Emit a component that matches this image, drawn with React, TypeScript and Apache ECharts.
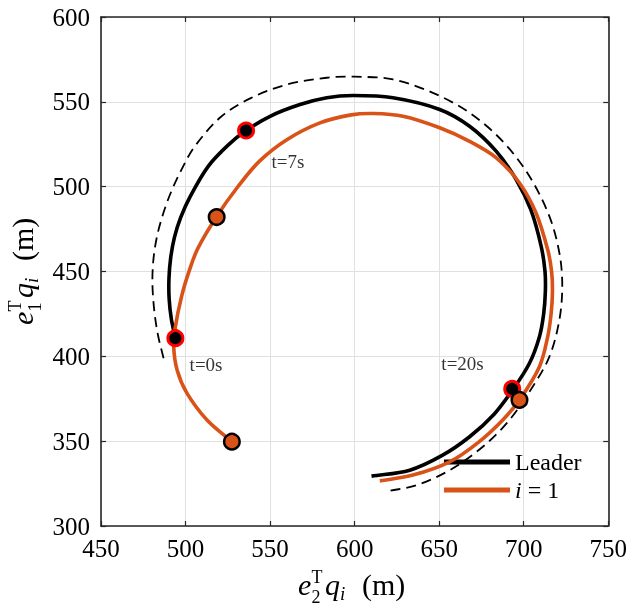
import React, { useEffect, useRef } from "react";
import * as echarts from "echarts";

const FONT = '"Liberation Serif", "Times New Roman", serif';

// Axis ticks
const xTicks = { min: 450, max: 750, interval: 50 };
const yTicks = { min: 300, max: 600, interval: 50 };

// Leader trajectory (e2 q, e1 q), from t=0 onwards
const leaderPath: number[][] = [
  [494.0, 410.7], [491.6, 422.0], [490.3, 434.0], [490.2, 446.0], [491.2, 458.0],
  [493.4, 470.0], [497.2, 482.0], [502.8, 494.3], [513.4, 512.0], [525.5, 524.8],
  [535.8, 533.1], [550.0, 541.5], [567.7, 548.4], [583.5, 552.4], [599.1, 553.7],
  [622.7, 552.4], [650.3, 545.5], [668.0, 535.6], [683.8, 520.8], [695.6, 504.1],
  [704.2, 486.4], [710.3, 465.0], [712.6, 450.0], [712.8, 438.0], [711.8, 425.0],
  [709.3, 411.6], [703.4, 395.9], [693.6, 380.4], [682.5, 365.9], [668.0, 352.6],
  [651.8, 341.6], [632.6, 332.9], [610.0, 329.4],
];

// Follower i = 1 trajectory
const followerPath: number[][] = [
  [527.4, 349.7], [512.7, 362.5], [500.9, 378.2], [495.0, 392.0], [493.0, 405.7],
  [494.0, 417.5], [497.7, 435.5], [502.2, 450.5], [507.2, 463.5], [518.3, 482.3],
  [530.8, 499.8], [543.9, 515.2], [559.9, 527.7], [579.5, 537.6], [598.0, 542.3],
  [611.0, 543.1], [628.6, 541.5], [650.3, 534.7], [668.0, 526.7], [683.8, 517.0],
  [697.5, 502.2], [707.3, 484.5], [714.2, 462.8], [716.5, 450.0], [717.0, 438.0],
  [716.2, 425.0], [714.2, 411.6], [709.3, 393.9], [697.5, 374.3], [687.6, 362.5],
  [673.2, 349.3], [656.2, 337.8], [634.5, 330.0], [614.9, 326.6],
];

// Dashed outer reference curve
const dashedPath: number[][] = [
  [487.0, 398.9], [483.6, 413.0], [481.4, 428.0], [480.4, 444.0], [481.1, 458.0],
  [483.3, 471.5], [486.9, 484.5], [491.5, 497.0], [497.6, 510.0], [505.2, 523.4],
  [521.0, 541.2], [538.6, 552.2], [559.9, 560.2], [583.5, 564.2], [600.0, 564.8],
  [622.7, 563.2], [646.3, 555.3], [668.0, 543.5], [687.6, 526.7], [703.4, 506.1],
  [715.2, 482.5], [721.1, 460.9], [722.8, 442.0], [721.1, 421.5], [715.2, 399.8],
  [705.3, 382.1], [691.6, 362.5], [675.8, 346.7], [656.2, 332.9], [636.5, 324.0],
  [620.8, 320.7],
];

// Snapshots at t = 0, 7, 20 s
const leaderMarks: number[][] = [[494.0, 410.7], [535.8, 533.1], [693.2, 380.8]];
const followerMarks: number[][] = [[527.4, 349.7], [518.4, 482.1], [697.5, 374.3]];

const annTexts = ["t=0s", "t=7s", "t=20s"];
const annPos: number[][] = [[502.4, 395.2], [550.8, 515.0], [651.3, 395.6]];

const seriesNames = ["Leader", "i = 1"];
const ORANGE = "#D95319";

// Smooth path through pixel points (chord-length scaled Hermite -> cubic Bezier)
function smoothPathData(px: number[][]): string {
  const n = px.length;
  const tan: number[][] = px.map((p, i) => {
    const a = px[Math.max(0, i - 1)];
    const b = px[Math.min(n - 1, i + 1)];
    const dx = b[0] - a[0];
    const dy = b[1] - a[1];
    const l = Math.hypot(dx, dy) || 1;
    return [dx / l, dy / l];
  });
  let d = `M${px[0][0]},${px[0][1]}`;
  for (let i = 0; i < n - 1; i++) {
    const p = px[i];
    const q = px[i + 1];
    const len = Math.hypot(q[0] - p[0], q[1] - p[1]) / 3;
    const c1 = [p[0] + tan[i][0] * len, p[1] + tan[i][1] * len];
    const c2 = [q[0] - tan[i + 1][0] * len, q[1] - tan[i + 1][1] * len];
    d += ` C${c1[0]},${c1[1]} ${c2[0]},${c2[1]} ${q[0]},${q[1]}`;
  }
  return d;
}

function curveSeries(name: string, pts: number[][], color: string, width: number, dash: number[] | null, z: number) {
  return {
    type: "custom",
    name,
    data: pts,
    z,
    itemStyle: { color },
    encode: { x: 0, y: 1 },
    renderItem: (params: any, api: any) => {
      if (params.dataIndex !== 0) return null;
      const px = pts.map((p) => api.coord(p));
      return {
        type: "path",
        shape: { pathData: smoothPathData(px) },
        style: {
          fill: "none",
          stroke: color,
          lineWidth: width,
          lineDash: dash || undefined,
        },
      };
    },
  };
}

function labelChildren(sub: string) {
  const pieces = [
    { t: "e", x: 0, by: 0, s: 30, it: true },
    { t: "T", x: 13.5, by: -12, s: 18, it: false },
    { t: sub, x: 13.5, by: 8, s: 18, it: false },
    { t: "q", x: 27, by: 0, s: 30, it: true },
    { t: "i", x: 42, by: 5, s: 19, it: true },
    { t: "(m)", x: 64, by: 0, s: 30, it: false },
  ];
  return pieces.map((p) => ({
    type: "text",
    x: p.x,
    y: p.by - 0.34 * p.s,
    style: {
      text: p.t,
      font: `${p.it ? "italic " : ""}${p.s}px ${FONT}`,
      fill: "#000",
      align: "left",
      verticalAlign: "middle",
      textAlign: "left",
      textVerticalAlign: "middle",
    },
  }));
}

export default function App() {
  const ref = useRef<HTMLDivElement>(null);
  useEffect(() => {
    if (!ref.current) return;
    const chart = echarts.init(ref.current, undefined, { renderer: "svg" });
    const axisLine = { show: true, onZero: false, lineStyle: { color: "#262626", width: 1.6 } };
    const tick = { show: true, inside: true, length: 5, lineStyle: { color: "#262626", width: 1.2 } };
    const split = { show: true, lineStyle: { color: "#e0e0e0", width: 1 } };
    const tickLabel = { fontFamily: FONT, fontSize: 25, color: "#000" };

    chart.setOption({
      animation: false,
      grid: { left: 101, top: 17, width: 509, height: 509, containLabel: false },
      xAxis: [
        {
          type: "value", ...xTicks, position: "bottom",
          axisLine, axisTick: tick, splitLine: split,
          axisLabel: { ...tickLabel, margin: 10 },
        },
        {
          type: "value", ...xTicks, position: "top",
          axisLine, axisTick: tick, splitLine: { show: false }, axisLabel: { show: false },
        },
      ],
      yAxis: [
        {
          type: "value", ...yTicks, position: "left",
          axisLine, axisTick: tick, splitLine: split,
          axisLabel: { ...tickLabel, margin: 11 },
        },
        {
          type: "value", ...yTicks, position: "right",
          axisLine, axisTick: tick, splitLine: { show: false }, axisLabel: { show: false },
        },
      ],
      legend: {
        data: seriesNames,
        orient: "vertical",
        left: 444,
        top: 450,
        padding: 0,
        itemWidth: 66,
        itemHeight: 5,
        itemGap: 4,
        icon: "rect",
        itemStyle: { borderWidth: 0 },
        formatter: (n: string) => (n === "i = 1" ? "{it|i} = 1" : n),
        textStyle: {
          fontFamily: FONT, fontSize: 24, color: "#000", lineHeight: 24,
          rich: { it: { fontFamily: FONT, fontSize: 24, fontStyle: "italic", color: "#000", lineHeight: 24 } },
        },
      },
      series: [
        curveSeries("dashed", dashedPath, "#000", 1.8, [10, 6], 2),
        curveSeries(seriesNames[0], leaderPath, "#000", 3.6, null, 3),
        curveSeries(seriesNames[1], followerPath, ORANGE, 3.6, null, 4),
        {
          type: "scatter", name: "leaderMarks", data: leaderMarks, symbolSize: 15,
          itemStyle: { color: "#000", borderColor: "#ff0000", borderWidth: 3, opacity: 1 }, z: 5,
        },
        {
          type: "scatter", name: "followerMarks", data: followerMarks, symbolSize: 15.5,
          itemStyle: { color: ORANGE, borderColor: "#000", borderWidth: 2.5, opacity: 1 }, z: 6,
        },
        {
          type: "scatter", name: "ann", symbolSize: 0, z: 7,
          data: annPos.map((p, i) => ({ value: p, name: annTexts[i] })),
          label: {
            show: true, position: "right", distance: 0,
            formatter: (p: any) => p.name,
            fontFamily: FONT, fontSize: 19, color: "#000",
          },
        },
      ],
      graphic: [
        { type: "group", x: 298, y: 595, children: labelChildren("2") },
        { type: "group", x: 33, y: 325, rotation: Math.PI / 2, children: labelChildren("1") },
      ],
    });
    return () => chart.dispose();
  }, []);
  return <div ref={ref} style={{ position: "fixed", left: 0, top: 0, width: 630, height: 606 }} />;
}
